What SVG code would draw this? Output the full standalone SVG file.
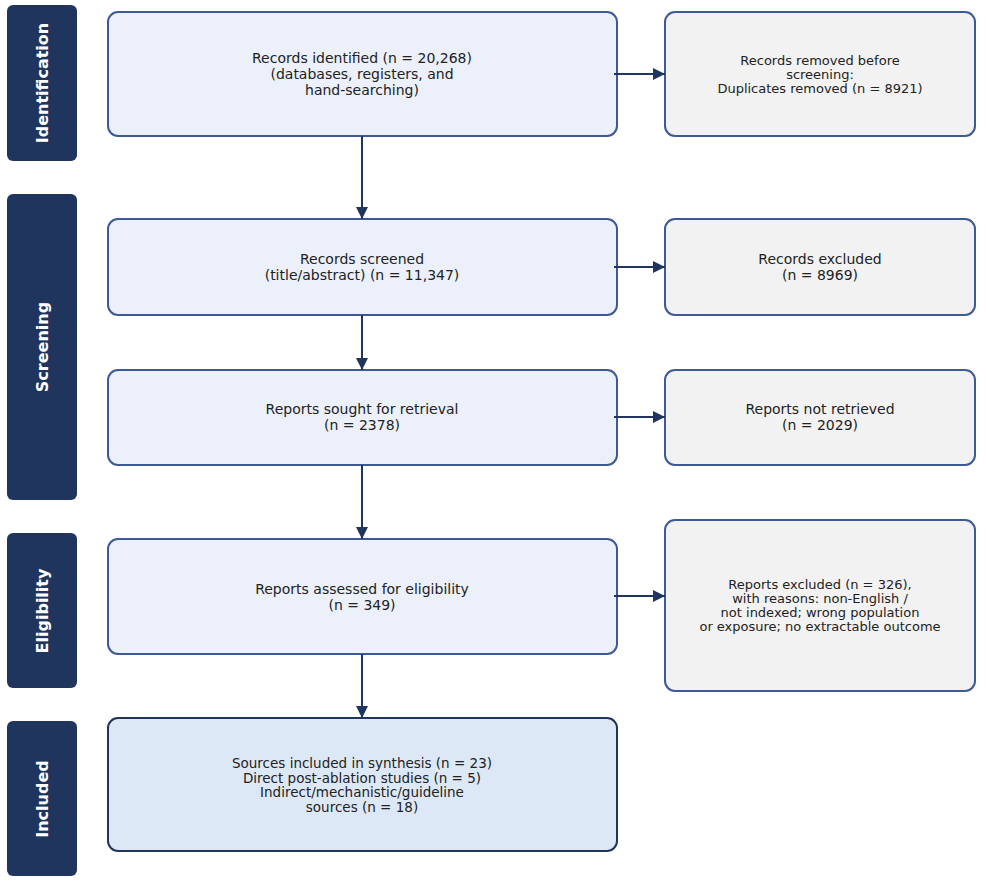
<svg xmlns="http://www.w3.org/2000/svg" width="986" height="882" viewBox="0 0 986 882">
<style>
.side{fill:#1f355e}
.sl{fill:#fff;font:bold 16px "DejaVu Sans",sans-serif;text-anchor:middle}
.m{fill:#ebf0fa;stroke:#3d5a96;stroke-width:2}
.r{fill:#f2f2f2;stroke:#3d5a96;stroke-width:2}
.inc{fill:#dde8f6;stroke:#1f355e;stroke-width:2}
.t{fill:#222;font:14px "DejaVu Sans",sans-serif;text-anchor:middle}
.t2{fill:#222;font:13px "DejaVu Sans",sans-serif;text-anchor:middle}
.c{stroke:#1f355e;stroke-width:2;fill:none;marker-end:url(#a)}
</style>
<defs><marker id="a" viewBox="0 0 10 10" refX="10" refY="5" markerWidth="6" markerHeight="6" orient="auto"><path d="M0,0L10,5L0,10z" fill="#1f355e"/></marker></defs>
<rect width="986" height="882" fill="#fff"/>
<g id="side-identification"><rect class="side" x="7" y="5" width="70" height="156" rx="6"/><text class="sl" transform="translate(48,83) rotate(-90)">Identification</text></g>
<g id="side-screening"><rect class="side" x="7" y="194" width="70" height="306" rx="6"/><text class="sl" transform="translate(48,347) rotate(-90)">Screening</text></g>
<g id="side-eligibility"><rect class="side" x="7" y="533" width="70" height="155" rx="6"/><text class="sl" transform="translate(48,611) rotate(-90)">Eligibility</text></g>
<g id="side-included"><rect class="side" x="7" y="721" width="70" height="155" rx="6"/><text class="sl" transform="translate(48,799) rotate(-90)">Included</text></g>
<g id="n1"><rect class="m" x="108" y="12" width="509" height="124" rx="10"/><text class="t" x="362" y="63">Records identified (n = 20,268)<tspan x="362" dy="16">(databases, registers, and</tspan><tspan x="362" dy="16">hand-searching)</tspan></text></g>
<g id="n2"><rect class="m" x="108" y="219" width="509" height="96" rx="10"/><text class="t" x="362" y="264">Records screened<tspan x="362" dy="16">(title/abstract) (n = 11,347)</tspan></text></g>
<g id="n3"><rect class="m" x="108" y="370" width="509" height="95" rx="10"/><text class="t" x="362" y="414">Reports sought for retrieval<tspan x="362" dy="16">(n = 2378)</tspan></text></g>
<g id="n4"><rect class="m" x="108" y="539" width="509" height="115" rx="10"/><text class="t" x="362" y="594">Reports assessed for eligibility<tspan x="362" dy="16">(n = 349)</tspan></text></g>
<g id="n5"><rect class="inc" x="108" y="718" width="509" height="133" rx="10"/><text class="t" style="font-size:13.5px" x="362" y="768">Sources included in synthesis (n = 23)<tspan x="362" dy="14.5">Direct post-ablation studies (n = 5)</tspan><tspan x="362" dy="14.5">Indirect/mechanistic/guideline</tspan><tspan x="362" dy="14.5">sources (n = 18)</tspan></text></g>
<g id="r1"><rect class="r" x="665" y="12" width="310" height="124" rx="10"/><text class="t2" x="820" y="65">Records removed before<tspan x="820" dy="14">screening:</tspan><tspan x="820" dy="14">Duplicates removed (n = 8921)</tspan></text></g>
<g id="r2"><rect class="r" x="665" y="219" width="310" height="96" rx="10"/><text class="t" x="820" y="264">Records excluded<tspan x="820" dy="16">(n = 8969)</tspan></text></g>
<g id="r3"><rect class="r" x="665" y="370" width="310" height="95" rx="10"/><text class="t" x="820" y="414">Reports not retrieved<tspan x="820" dy="16">(n = 2029)</tspan></text></g>
<g id="r4"><rect class="r" x="665" y="520" width="310" height="171" rx="10"/><text class="t2" x="820" y="589">Reports excluded (n = 326),<tspan x="820" dy="14">with reasons: non-English /</tspan><tspan x="820" dy="14">not indexed; wrong population</tspan><tspan x="820" dy="14">or exposure; no extractable outcome</tspan></text></g>
<g id="connectors">
<path class="c" d="M362,136V219"/><path class="c" d="M362,315V370"/><path class="c" d="M362,465V539"/><path class="c" d="M362,654V718"/>
<path class="c" d="M614,74H665"/><path class="c" d="M614,267H665"/><path class="c" d="M614,417H665"/><path class="c" d="M614,596H665"/>
</g>
</svg>
